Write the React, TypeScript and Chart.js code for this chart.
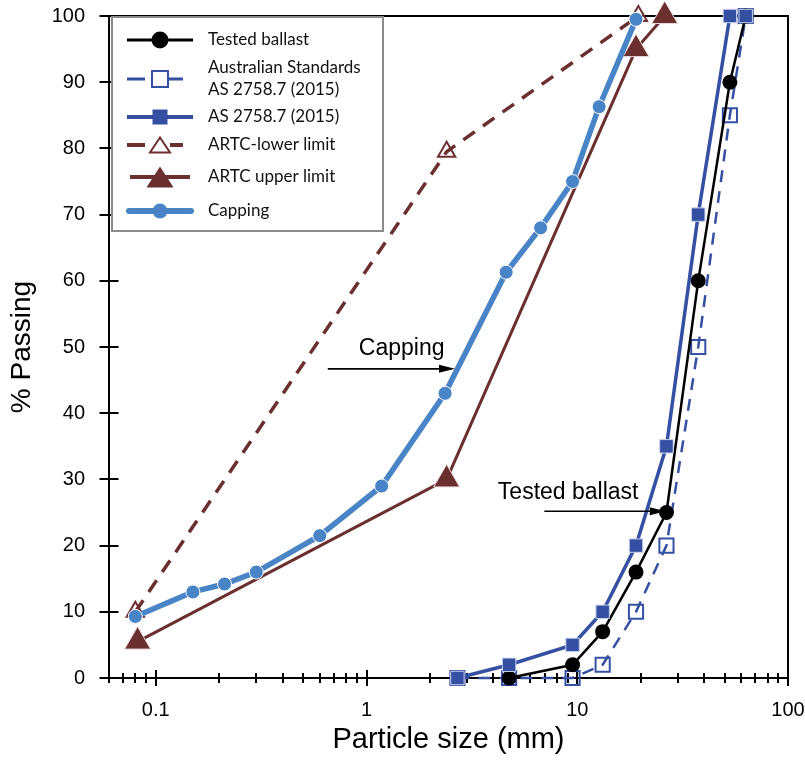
import React, { useEffect, useRef } from 'react';
import { Chart, registerables } from 'chart.js';
Chart.register(...registerables);

// ---- data ----
const testedX = [4.75, 9.5, 13.2, 19, 26.5, 37.5, 53, 63];
const testedY = [0, 2, 7, 16, 25, 60, 90, 100];
const asOpenX = [2.7, 4.75, 9.5, 13.2, 19, 26.5, 37.5, 53, 63];
const asOpenY = [0, 0, 0, 2, 10, 20, 50, 85, 100];
const asFilledX = [2.7, 4.75, 9.5, 13.2, 19, 26.5, 37.5, 53, 63];
const asFilledY = [0, 2, 5, 10, 20, 35, 70, 100, 100];
const artcLowerX = [0.08, 2.4, 19.5];
const artcLowerY = [10, 79.5, 100];
const artcUpperX = [0.082, 2.4, 19, 26];
const artcUpperY = [5.5, 30, 95, 100];
const cappingX = [0.08, 0.15, 0.212, 0.3, 0.6, 1.18, 2.36, 4.6, 6.7, 9.5, 12.7, 19];
const cappingY = [9.3, 13, 14.2, 16, 21.5, 29, 43, 61.3, 68, 75, 86.3, 99.5];

const xMajorTicks = [0.1, 1, 10, 100];
const xMinorTicks = [0.06, 0.07, 0.08, 0.09, 0.2, 0.3, 0.4, 0.5, 0.6, 0.7, 0.8, 0.9, 2, 3, 4, 5, 6, 7, 8, 9, 20, 30, 40, 50, 60, 70, 80, 90];
const yTicks = [0, 10, 20, 30, 40, 50, 60, 70, 80, 90, 100];

const legendLabels = [
  ['Tested ballast'],
  ['Australian Standards', 'AS 2758.7 (2015)'],
  ['AS 2758.7 (2015)'],
  ['ARTC-lower limit'],
  ['ARTC upper limit'],
  ['Capping'],
];

// annotations in data coordinates: [text, textX, textY, arrowFromX, arrowToX, arrowY]
const annotations: [string, number, number, number, number, number][] = [
  ['Capping', 0.92, 48.8, 0.655, 2.63, 46.7],
  ['Tested ballast', 4.2, 27.0, 6.98, 26.3, 25.2],
];

const BLACK = '#000000';
const AS_BLUE = '#3550A2';
const MAROON = '#6B2F2F';
const CAP_BLUE = '#4884C6';
const TEXT_FONT = '"Liberation Sans", Arial, sans-serif';
const LEGEND_FONT = 'Lato, "Liberation Sans", sans-serif';

const pts = (xs: number[], ys: number[]) => xs.map((x, i) => ({ x, y: ys[i] }));

function drawTri(ctx: CanvasRenderingContext2D, cx: number, cy: number, w: number, h: number) {
  ctx.beginPath();
  ctx.moveTo(cx, cy - h / 2);
  ctx.lineTo(cx + w / 2, cy + h / 2);
  ctx.lineTo(cx - w / 2, cy + h / 2);
  ctx.closePath();
}

const zeroPad = (scale: any) => {
  scale.paddingLeft = 0;
  scale.paddingRight = 0;
  scale.paddingTop = 0;
  scale.paddingBottom = 0;
};

const framePlugin = {
  id: 'frame',
  beforeDatasetsDraw(chart: any) {
    const { ctx, chartArea: a, scales } = chart;
    const xs = scales.x, ys = scales.y;
    ctx.save();
    ctx.strokeStyle = BLACK;
    ctx.lineWidth = 2;
    ctx.strokeRect(a.left, a.top, a.right - a.left, a.bottom - a.top);
    ctx.beginPath();
    xMajorTicks.forEach((v) => {
      const px = Math.round(xs.getPixelForValue(v));
      ctx.moveTo(px, a.bottom - 8);
      ctx.lineTo(px, a.bottom + 8);
    });
    xMinorTicks.forEach((v) => {
      const px = Math.round(xs.getPixelForValue(v));
      ctx.moveTo(px, a.bottom - 5);
      ctx.lineTo(px, a.bottom + 5);
    });
    yTicks.forEach((v) => {
      const py = Math.round(ys.getPixelForValue(v));
      ctx.moveTo(a.left - 9.5, py);
      ctx.lineTo(a.left + 9.5, py);
    });
    ctx.stroke();
    ctx.restore();
  },
  afterDraw(chart: any) {
    const { ctx, scales } = chart;
    const xs = scales.x, ys = scales.y;
    ctx.save();
    // annotations
    annotations.forEach(([text, tx, ty, fx, tox, ay]) => {
      ctx.fillStyle = BLACK;
      ctx.font = `23px ${TEXT_FONT}`;
      ctx.textBaseline = 'alphabetic';
      ctx.textAlign = 'left';
      ctx.fillText(text, xs.getPixelForValue(tx), ys.getPixelForValue(ty));
      const x1 = xs.getPixelForValue(fx);
      const x2 = xs.getPixelForValue(tox);
      const y = ys.getPixelForValue(ay);
      ctx.strokeStyle = BLACK;
      ctx.lineWidth = 1.6;
      ctx.beginPath();
      ctx.moveTo(x1, y);
      ctx.lineTo(x2 - 12, y);
      ctx.stroke();
      ctx.beginPath();
      ctx.moveTo(x2, y);
      ctx.lineTo(x2 - 16, y - 4);
      ctx.lineTo(x2 - 16, y + 4);
      ctx.closePath();
      ctx.fill();
    });

    // legend
    const L = 112, T = 17, R = 383, B = 231;
    ctx.fillStyle = '#ffffff';
    ctx.fillRect(L, T, R - L, B - T);
    ctx.strokeStyle = '#8a8a8a';
    ctx.lineWidth = 2;
    ctx.strokeRect(L, T, R - L, B - T);

    const mx = 160;
    const textX = 208;
    const rows = [40, 79, 117, 145, 177, 211];
    ctx.lineCap = 'butt';
    // 0 tested ballast
    let y = rows[0];
    ctx.strokeStyle = BLACK; ctx.lineWidth = 3;
    ctx.beginPath(); ctx.moveTo(127, y); ctx.lineTo(193, y); ctx.stroke();
    ctx.fillStyle = BLACK;
    ctx.beginPath(); ctx.arc(mx, y, 8.5, 0, Math.PI * 2); ctx.fill();
    // 1 AS open
    y = rows[1];
    ctx.strokeStyle = AS_BLUE; ctx.lineWidth = 3;
    ctx.beginPath(); ctx.moveTo(127, y); ctx.lineTo(145, y); ctx.moveTo(168, y); ctx.lineTo(183, y); ctx.stroke();
    ctx.lineWidth = 2;
    ctx.strokeRect(mx - 8, y - 8, 16, 16);
    // 2 AS filled
    y = rows[2];
    ctx.strokeStyle = AS_BLUE; ctx.lineWidth = 4;
    ctx.beginPath(); ctx.moveTo(127, y); ctx.lineTo(193, y); ctx.stroke();
    ctx.fillStyle = AS_BLUE;
    ctx.fillRect(mx - 7.5, y - 7.5, 15, 15);
    // 3 ARTC lower
    y = rows[3];
    ctx.strokeStyle = MAROON; ctx.lineWidth = 4;
    ctx.beginPath(); ctx.moveTo(127, y); ctx.lineTo(145, y); ctx.moveTo(170, y); ctx.lineTo(183, y); ctx.stroke();
    ctx.fillStyle = '#ffffff'; ctx.lineWidth = 2;
    drawTri(ctx, mx, y, 20, 15); ctx.fill(); ctx.stroke();
    // 4 ARTC upper
    y = rows[4];
    ctx.strokeStyle = MAROON; ctx.lineWidth = 4;
    ctx.beginPath(); ctx.moveTo(130, y); ctx.lineTo(190, y); ctx.stroke();
    ctx.fillStyle = MAROON;
    drawTri(ctx, mx, y, 27, 21); ctx.fill();
    // 5 capping
    y = rows[5];
    ctx.strokeStyle = CAP_BLUE; ctx.lineWidth = 6; ctx.lineCap = 'round';
    ctx.beginPath(); ctx.moveTo(129, y); ctx.lineTo(191, y); ctx.stroke();
    ctx.fillStyle = CAP_BLUE;
    ctx.beginPath(); ctx.arc(mx, y, 7.5, 0, Math.PI * 2); ctx.fill();

    ctx.fillStyle = '#111111';
    ctx.font = `17px ${LEGEND_FONT}`;
    ctx.textBaseline = 'middle';
    ctx.textAlign = 'left';
    const textRows = [[40], [68, 90], [117], [145], [177], [211]];
    legendLabels.forEach((lines, i) => {
      lines.forEach((s, j) => ctx.fillText(s, textX, textRows[i][j]));
    });
    ctx.restore();
  },
};

export default function App() {
  const ref = useRef<HTMLCanvasElement>(null);
  useEffect(() => {
    Chart.defaults.font.family = TEXT_FONT;
    const chart = new Chart(ref.current as HTMLCanvasElement, {
      type: 'scatter',
      data: {
        datasets: [
          {
            label: 'Capping', data: pts(cappingX, cappingY), showLine: true,
            borderColor: CAP_BLUE, borderWidth: 5.5, backgroundColor: CAP_BLUE,
            pointRadius: 7, pointBackgroundColor: CAP_BLUE, pointBorderColor: '#ffffff', pointBorderWidth: 1,
            order: 0, clip: false,
          },
          {
            label: 'Tested ballast', data: pts(testedX, testedY), showLine: true,
            borderColor: BLACK, borderWidth: 2.5, backgroundColor: BLACK,
            pointRadius: 7.5, pointBackgroundColor: BLACK, pointBorderColor: BLACK, pointBorderWidth: 0,
            order: 2, clip: false,
          },
          {
            label: 'AS 2758.7 (2015)', data: pts(asFilledX, asFilledY), showLine: true,
            borderColor: AS_BLUE, borderWidth: 3.5, backgroundColor: AS_BLUE,
            pointStyle: 'rect', pointRadius: 9.5, pointBackgroundColor: AS_BLUE, pointBorderColor: '#c9d1ec', pointBorderWidth: 1,
            order: 1, clip: false,
          },
          {
            label: 'Australian Standards AS 2758.7 (2015)', data: pts(asOpenX, asOpenY), showLine: true,
            borderColor: AS_BLUE, borderWidth: 2.5, borderDash: [12, 9], backgroundColor: 'rgba(0,0,0,0)',
            pointStyle: 'rect', pointRadius: 10, pointBackgroundColor: 'rgba(0,0,0,0)', pointBorderColor: AS_BLUE, pointBorderWidth: 2,
            order: 3, clip: false,
          },
          {
            label: 'ARTC upper limit', data: pts(artcUpperX, artcUpperY), showLine: true,
            borderColor: MAROON, borderWidth: 3, backgroundColor: MAROON,
            pointStyle: 'triangle', pointRadius: 15, pointBackgroundColor: MAROON, pointBorderColor: '#e8d8d8', pointBorderWidth: 1,
            order: 4, clip: false,
          },
          {
            label: 'ARTC-lower limit', data: pts(artcLowerX, artcLowerY), showLine: true,
            borderColor: MAROON, borderWidth: 3.5, borderDash: [14, 10], backgroundColor: 'rgba(0,0,0,0)',
            pointStyle: 'triangle', pointRadius: 10, pointBackgroundColor: 'rgba(0,0,0,0)', pointBorderColor: MAROON, pointBorderWidth: 2,
            order: 5, clip: false,
          },
        ],
      },
      options: {
        responsive: false,
        animation: false,
        devicePixelRatio: 1,
        layout: { padding: { left: 0, top: 16, right: 17, bottom: 0 } },
        plugins: { legend: { display: false }, tooltip: { enabled: false } },
        elements: { line: { tension: 0 } },
        scales: {
          x: {
            type: 'logarithmic',
            min: 0.06,
            max: 100,
            afterBuildTicks: (scale: any) => {
              scale.ticks = [...xMinorTicks, ...xMajorTicks].sort((a, b) => a - b).map((v) => ({ value: v }));
            },
            afterFit: (scale: any) => { scale.height = 94; zeroPad(scale); },
            grid: { display: false },
            border: { display: false },
            ticks: {
              autoSkip: false, maxRotation: 0, minRotation: 0, padding: 12,
              color: BLACK, font: { size: 20, family: TEXT_FONT },
              callback: (v: any) => (xMajorTicks.includes(Number(v)) ? String(v) : ''),
            },
            title: {
              display: true, text: 'Particle size (mm)', color: BLACK,
              font: { size: 29, family: TEXT_FONT }, padding: { top: 0, bottom: 15 },
            },
          },
          y: {
            type: 'linear',
            min: 0,
            max: 100,
            afterBuildTicks: (scale: any) => { scale.ticks = yTicks.map((v) => ({ value: v })); },
            afterFit: (scale: any) => { scale.width = 109; zeroPad(scale); },
            grid: { display: false },
            border: { display: false },
            ticks: {
              padding: 16, color: BLACK, font: { size: 20, family: TEXT_FONT },
              callback: (v: any) => String(v),
            },
            title: {
              display: true, text: '% Passing', color: BLACK,
              font: { size: 28, family: TEXT_FONT }, padding: { top: 5, bottom: 0 },
            },
          },
        },
      },
      plugins: [framePlugin],
    } as any);
    return () => chart.destroy();
  }, []);
  return (
    <div style={{ position: 'absolute', left: 0, top: 0, width: 805, height: 772, background: '#ffffff' }}>
      <canvas ref={ref} width={805} height={772} style={{ display: 'block', width: 805, height: 772 }} />
    </div>
  );
}
